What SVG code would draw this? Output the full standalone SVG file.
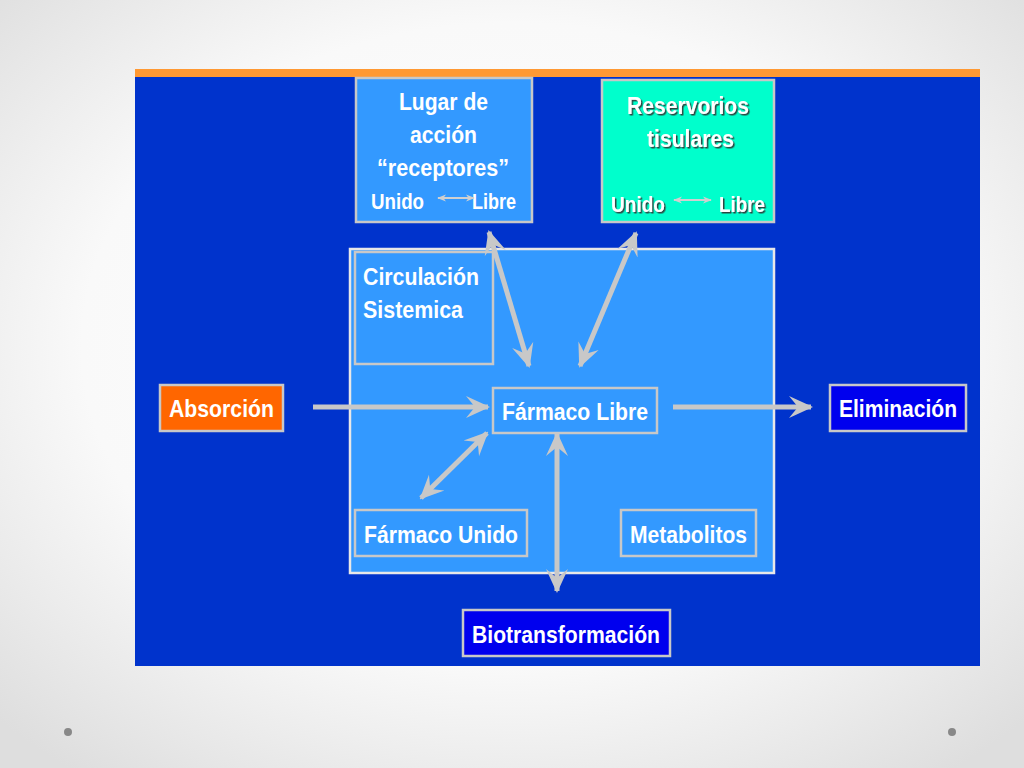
<svg xmlns="http://www.w3.org/2000/svg" width="1024" height="768" viewBox="0 0 1024 768">
<defs>
<radialGradient id="bg" cx="50%" cy="45%" r="70%">
<stop offset="0" stop-color="#ffffff"/>
<stop offset="0.6" stop-color="#f9f9f9"/>
<stop offset="1" stop-color="#dedede"/>
</radialGradient>
<marker id="ah" markerUnits="userSpaceOnUse" viewBox="0 0 24 24" markerWidth="24" markerHeight="24" refX="22" refY="12" orient="auto-start-reverse">
<path d="M0,1 L24,12 L0,23 L9,12 z" fill="#c8c8c8"/>
</marker>
<marker id="sah" markerUnits="userSpaceOnUse" viewBox="0 0 10 10" markerWidth="9" markerHeight="9" refX="9" refY="5" orient="auto-start-reverse">
<path d="M0,1 L10,5 L0,9 L3,5 z" fill="#d0d0d0"/>
</marker>
<filter id="sh" x="-10%" y="-10%" width="120%" height="140%">
<feDropShadow dx="1.5" dy="1.5" stdDeviation="0.3" flood-color="#333333" flood-opacity="0.9"/>
</filter>
</defs>
<style>
text{font-family:"Liberation Sans",Arial,sans-serif;font-weight:bold;font-size:24px;fill:#ffffff}
.sm{font-size:22px}
.box{stroke:#c8c8c8;stroke-width:2.5}
.lb{fill:#3399ff}
.conn{stroke:#c8c8c8;stroke-width:5;fill:none}
.small{stroke:#d0d0d0;stroke-width:2;fill:none}
</style>
<rect x="0" y="0" width="1024" height="768" fill="url(#bg)"/>
<circle cx="68" cy="732" r="4" fill="#888888"/>
<circle cx="952" cy="732" r="4" fill="#888888"/>
<rect x="135" y="69" width="845" height="8" fill="#ff9933"/>
<rect x="135" y="77" width="845" height="589" fill="#0033cc"/>

<g id="lugar">
<rect class="box lb" x="356" y="78" width="176" height="144"/>
<text x="399" y="110" textLength="89" lengthAdjust="spacingAndGlyphs">Lugar de</text>
<text x="410" y="143" textLength="67" lengthAdjust="spacingAndGlyphs">acción</text>
<text x="377" y="176" textLength="132" lengthAdjust="spacingAndGlyphs">“receptores”</text>
<text class="sm" x="371" y="209" textLength="53" lengthAdjust="spacingAndGlyphs">Unido</text>
<text class="sm" x="472" y="209" textLength="44" lengthAdjust="spacingAndGlyphs">Libre</text>
<line class="small" x1="438" y1="198" x2="474" y2="198" marker-start="url(#sah)" marker-end="url(#sah)"/>
</g>

<g id="reservorios">
<rect class="box" x="602" y="80" width="172" height="142" fill="#00ffcc"/>
<g filter="url(#sh)">
<text x="627" y="114" textLength="122" lengthAdjust="spacingAndGlyphs">Reservorios</text>
<text x="647" y="147" textLength="87" lengthAdjust="spacingAndGlyphs">tisulares</text>
<text class="sm" x="611" y="212" textLength="54" lengthAdjust="spacingAndGlyphs">Unido</text>
<text class="sm" x="719" y="212" textLength="46" lengthAdjust="spacingAndGlyphs">Libre</text>
</g>
<line class="small" x1="674" y1="200" x2="711" y2="200" marker-start="url(#sah)" marker-end="url(#sah)"/>
</g>

<g id="sistema">
<rect x="350" y="249" width="424" height="324" fill="#3399ff" stroke="#e8e8e8" stroke-width="2.5"/>
</g>

<g id="circulacion">
<rect class="box lb" x="355" y="252" width="138" height="112"/>
<text x="363" y="285" textLength="116" lengthAdjust="spacingAndGlyphs">Circulación</text>
<text x="363" y="318" textLength="100" lengthAdjust="spacingAndGlyphs">Sistemica</text>
</g>

<g id="absorcion">
<rect class="box" x="160" y="385" width="123" height="46" fill="#ff6600"/>
<text x="169" y="417" textLength="105" lengthAdjust="spacingAndGlyphs">Absorción</text>
</g>

<g id="farmaco-libre">
<rect class="box lb" x="493" y="388" width="164" height="45"/>
<text x="502" y="420" textLength="146" lengthAdjust="spacingAndGlyphs">Fármaco Libre</text>
</g>

<g id="eliminacion">
<rect class="box" x="830" y="385" width="136" height="46" fill="#0000ee"/>
<text x="839" y="417" textLength="118" lengthAdjust="spacingAndGlyphs">Eliminación</text>
</g>

<g id="farmaco-unido">
<rect class="box lb" x="355" y="510" width="172" height="46"/>
<text x="364" y="543" textLength="154" lengthAdjust="spacingAndGlyphs">Fármaco Unido</text>
</g>

<g id="metabolitos">
<rect class="box lb" x="621" y="510" width="135" height="46"/>
<text x="630" y="543" textLength="117" lengthAdjust="spacingAndGlyphs">Metabolitos</text>
</g>

<g id="biotransformacion">
<rect class="box" x="463" y="610" width="207" height="46" fill="#0000ee"/>
<text x="472" y="643" textLength="188" lengthAdjust="spacingAndGlyphs">Biotransformación</text>
</g>

<g id="connectors">
<line class="conn" x1="313" y1="407" x2="488" y2="407" marker-end="url(#ah)"/>
<line class="conn" x1="673" y1="407" x2="811" y2="407" marker-end="url(#ah)"/>
<line class="conn" x1="489" y1="232" x2="529" y2="366" marker-start="url(#ah)" marker-end="url(#ah)"/>
<line class="conn" x1="636" y1="233" x2="580" y2="366" marker-start="url(#ah)" marker-end="url(#ah)"/>
<line class="conn" x1="487" y1="433" x2="421" y2="498" marker-start="url(#ah)" marker-end="url(#ah)"/>
<line class="conn" x1="557" y1="434" x2="557" y2="591" marker-start="url(#ah)" marker-end="url(#ah)"/>
</g>
</svg>
